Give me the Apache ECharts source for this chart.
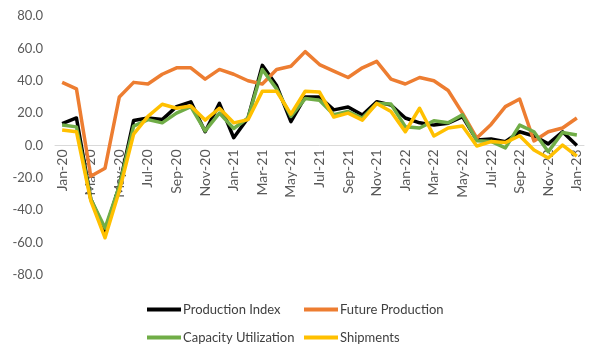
<!DOCTYPE html>
<html>
<head>
<meta charset="utf-8">
<script src="https://cdn.jsdelivr.net/npm/echarts@6/dist/echarts.min.js"></script>
<style>
html,body{margin:0;padding:0;background:#fff;}
#chart{width:600px;height:359px;}
</style>
</head>
<body>
<div id="chart"></div>
<script>
var categories = ["Jan-20","Feb-20","Mar-20","Apr-20","May-20","Jun-20","Jul-20","Aug-20","Sep-20","Oct-20","Nov-20","Dec-20",
"Jan-21","Feb-21","Mar-21","Apr-21","May-21","Jun-21","Jul-21","Aug-21","Sep-21","Oct-21","Nov-21","Dec-21",
"Jan-22","Feb-22","Mar-22","Apr-22","May-22","Jun-22","Jul-22","Aug-22","Sep-22","Oct-22","Nov-22","Dec-22","Jan-23"];

var productionIndex = [13.5,17,-33,-53,-25,15.5,17,16,24,27,8.5,26,4.8,17,49.5,37,14.7,30,30,22,23.8,18.8,27,25,17,14,12.6,13.8,17.8,3.4,4,2.3,8.5,5.9,1,8.5,0];
var futureProduction = [39,35,-19,-14,30,39,38,44,48,48,41,47,44,40,38,47,49,58,50,46,42,48,52,41,38,42,40,34,20,4.6,13,24,28.7,2.8,8.5,10.8,17];
var capacityUtilization = [12.6,11.5,-33,-51,-25,12,16,14,20,24,9,20,10.5,17,47,35,18,29,28,19,21,17,26,25.6,11.6,10.8,15.3,14,19,3,2.5,-1.5,12.6,8.5,-3.8,8,6.5];
var shipments = [9.6,8.5,-34,-57,-28,7,18,25.5,23,24.4,15.7,23,14,16,33.5,33.5,19.4,33.5,33,17.6,20,15.7,26,21,8.5,23,5.9,10.8,12,-0.3,2.4,1.8,6,-2.8,-7.7,0.3,-6.5];

var yTicks = {min:-80, max:80, interval:20};
var seriesNames = ["Production Index","Future Production","Capacity Utilization","Shipments"];
var seriesData = [productionIndex, futureProduction, capacityUtilization, shipments];
var colors = ["#000000","#ED7D31","#70AD47","#FFC000"];

var FONT = "Lato";
var GRID_H = 259;
var chart = echarts.init(document.getElementById('chart'));

function legendAt(name, left, top){
  return {
    data:[name], left:left, top:top, icon:'rect', itemWidth:34, itemHeight:4,
    itemGap:0, padding:0,
    textStyle:{fontFamily:FONT, fontSize:13, color:'#404040', padding:[0,0,0,-3]}
  };
}

var option = {
  animation:false,
  color: colors,
  grid:{left:55, right:16, top:16, bottom:84, containLabel:false},
  legend:[
    legendAt(seriesNames[0],147,303),
    legendAt(seriesNames[1],304,303),
    legendAt(seriesNames[2],147,331),
    legendAt(seriesNames[3],304,331)
  ],
  xAxis:{
    type:'category', data:categories, boundaryGap:true,
    offset: -GRID_H/2,
    axisLine:{onZero:false, lineStyle:{color:'#D9D9D9', width:1}},
    axisTick:{show:false},
    axisLabel:{interval:1, rotate:90, margin:4, color:'#595959', fontFamily:FONT, fontSize:14}
  },
  yAxis:{
    type:'value', min:yTicks.min, max:yTicks.max, interval:yTicks.interval,
    axisLine:{show:false}, axisTick:{show:false}, splitLine:{show:false},
    axisLabel:{margin:12, color:'#595959', fontFamily:FONT, fontSize:13,
      formatter:function(v){return v.toFixed(1);}}
  },
  series: seriesNames.map(function(n,i){
    return {name:n, type:'line', data:seriesData[i], symbol:'none', showSymbol:false,
      lineStyle:{width:3.5, color:colors[i], join:'round'}, itemStyle:{color:colors[i]}, z:2+i};
  })
};
chart.setOption(option);
</script>
</body>
</html>
